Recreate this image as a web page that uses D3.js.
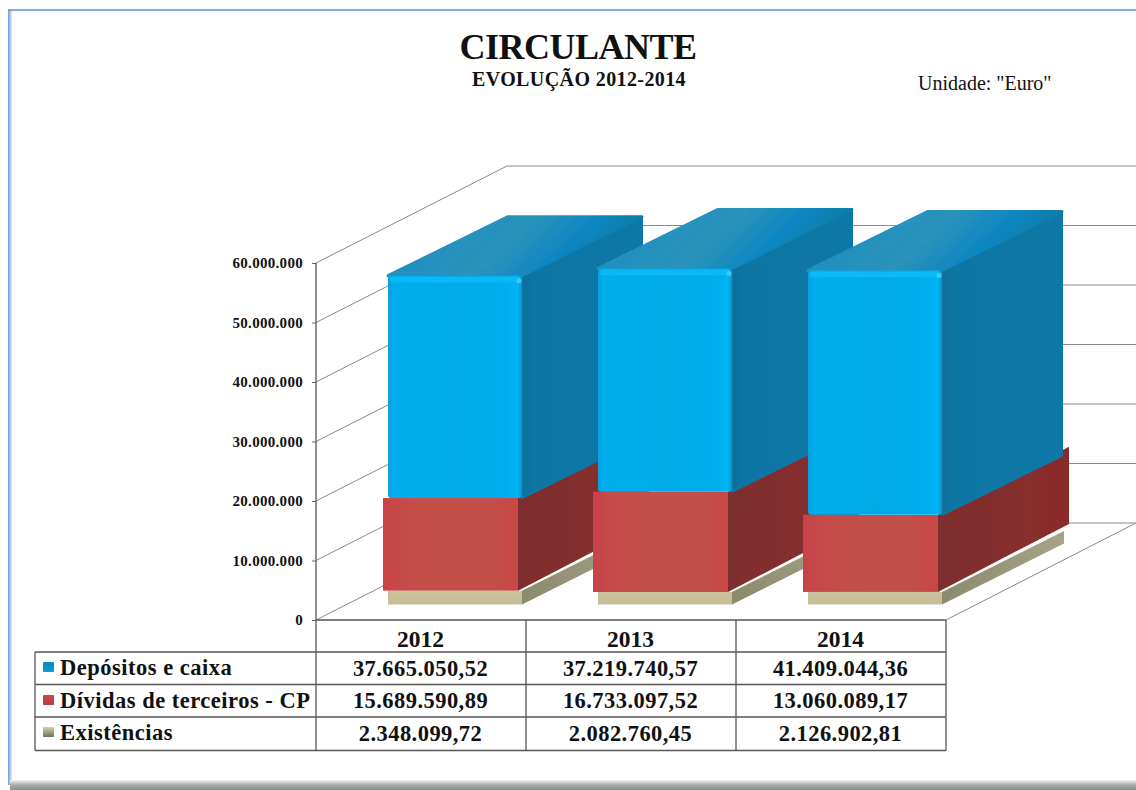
<!DOCTYPE html>
<html><head><meta charset="utf-8">
<script src="https://cdn.jsdelivr.net/npm/d3@7"></script>
<style>html,body{margin:0;padding:0;background:#fff;overflow:hidden}svg{display:block}text{font-family:"Liberation Serif",serif}</style>
</head><body><svg id="c" width="1136" height="790"></svg>
<script>
const years = [2012, 2013, 2014];
const seriesNames = ["Depósitos e caixa", "Dívidas de terceiros - CP", "Existências"];
const depositos = [37665050.52, 37219740.57, 41409044.36];
const dividas = [15689590.89, 16733097.52, 13060089.17];
const existencias = [2348099.72, 2082760.45, 2126902.81];
const yTicks = [0, 10000000, 20000000, 30000000, 40000000, 50000000, 60000000];
const titleText = "CIRCULANTE", subtitleText = "EVOLUÇÃO 2012-2014", unitText = 'Unidade: "Euro"';

const svg = d3.select("#c");
const defs = svg.append("defs");
function grad(id, stops, x2 = 1, y2 = 0) {
  const g = defs.append("linearGradient").attr("id", id).attr("x1", 0).attr("y1", 0).attr("x2", x2).attr("y2", y2);
  stops.forEach(([o, c]) => g.append("stop").attr("offset", o).attr("stop-color", c));
}
grad("blueF", [[0, "#0a9fdc"], [.04, "#03aeed"], [.5, "#03abe8"], [.9, "#03aeee"], [.97, "#03b6f6"], [1, "#0a8fc0"]]);
grad("blueS", [[0, "#0a6f9c"], [.12, "#0a76a4"], [.9, "#0977a6"], [1, "#0a78a8"]]);
grad("blueT", [[0, "#1a8dc2"], [.55, "#2a93bb"], [.78, "#0e86c2"], [.93, "#0a7eaa"], [1, "#0a7aa6"]], 1, .25);
grad("redF", [[0, "#c8424a"], [.2, "#c44e48"], [.8, "#c24f49"], [1, "#c84844"]]);
grad("redS", [[0, "#7e2e2d"], [.6, "#862f2e"], [1, "#8c2a2a"]]);
grad("exF", [[0, "#cbc39e"], [1, "#c5bc96"]], 0, 1);
grad("exS", [[0, "#8a8a6c"], [1, "#a6a38a"]]);
grad("lgB", [[0, "#0a86b8"], [1, "#0a9fd8"]], 0, 1);
grad("lgR", [[0, "#c9474c"], [1, "#b83e42"]], 0, 1);
grad("lgE", [[0, "#d8d2a0"], [1, "#6e6e62"]], 0, 1);
grad("frameL", [[0, "#6d9bd6"], [1, "#e4ecf7"]]);
grad("frameB", [[0, "#f2f3f3"], [.5, "#a9abab"], [1, "#8b8d8d"]], 0, 1);
defs.append("filter").attr("id", "soft").append("feGaussianBlur").attr("stdDeviation", .7);

// window frame
svg.append("rect").attr("x", 8).attr("y", 10).attr("width", 4).attr("height", 775).attr("fill", "url(#frameL)");
svg.append("line").attr("x1", 8).attr("x2", 1136).attr("y1", 10).attr("y2", 10).attr("stroke", "#5b8fcf").attr("stroke-width", 1.6);
svg.append("rect").attr("x", 10).attr("y", 780).attr("width", 1126).attr("height", 10).attr("fill", "url(#frameB)");

// scales
const x = d3.scaleBand().domain(years).range([316, 946]);
const y = d3.scaleLinear().domain([0, 60000000]).range([620, 263]);
const wall = { dx: 191, dy: -97 };
const loc = d3.formatLocale({ decimal: ",", thousands: ".", grouping: [3], currency: ["", ""] });
const fmtTick = loc.format(",.0f");
const fmtVal = loc.format(",.2f");

// gridlines on side wall and back wall
const grid = svg.append("g").attr("fill", "none").attr("stroke", "#8a8a8a").attr("stroke-width", 1);
yTicks.forEach(t => {
  grid.append("path").attr("d", `M${x.range()[0]},${y(t)}L${x.range()[0] + wall.dx},${y(t) + wall.dy}L1136,${y(t) + wall.dy}`);
});
grid.append("path").attr("d", `M${x.range()[1]},${y(0)}L1136,${y(0) + wall.dy}`);

// axis
const axis = svg.append("g").attr("transform", "translate(316,0)")
  .call(d3.axisLeft(y).tickValues(yTicks).tickFormat(fmtTick).tickSize(4).tickPadding(9));
axis.select(".domain").remove();
axis.selectAll("line").attr("stroke", "#666");
axis.selectAll("text").attr("font-size", 15).attr("letter-spacing", .3).attr("font-weight", "bold").attr("fill", "#111")
  .style("font-family", '"Liberation Serif",serif');

// bars
const layers = [
  { vals: existencias, off: 72, w: 134, d: [122, -61], f: "url(#exF)", s: "url(#exS)" },
  { vals: dividas, off: 67, w: 135, d: [131, -68], f: "url(#redF)", s: "url(#redS)" },
  { vals: depositos, off: 72, w: 134, d: [120, -59], f: "url(#blueF)", s: "url(#blueS)", t: "url(#blueT)", round: true }
];
const unitPx = (y(0) - y(1000000)) / 1000000;
const perspective = [0.992, 1.008, 0.992];
const baseY = 604.5;
const bars = svg.append("g").attr("filter", "url(#soft)");
years.forEach((yr, i) => {
  let cum = 0;
  const k = unitPx * perspective[i];
  layers.forEach(l => {
    const v = l.vals[i];
    const y0 = baseY - cum * k;
    const y1 = baseY - (cum + v) * k;
    cum += v;
    const x0 = x(yr) + l.off, x1 = x0 + l.w;
    const [dx, dy] = l.d;
    const g = bars.append("g");
    const face = (pts, fill) => g.append("path").attr("d", "M" + pts.map(q => q.join(",")).join("L") + "Z").attr("fill", fill);
    const side = face([[x1, y0], [x1 + dx, y0 + dy], [x1 + dx, y1 + dy], [x1, y1]], l.s);
    if (l.t) {
      side.attr("stroke", "#0a78a8").attr("stroke-width", 2).attr("stroke-linejoin", "round");
      face([[x0, y1], [x0 + dx, y1 + dy], [x1 + dx, y1 + dy], [x1, y1]], l.t)
        .attr("stroke", "url(#blueT)").attr("stroke-width", 3).attr("stroke-linejoin", "round");
    }
    g.append("rect").attr("x", x0).attr("y", y1).attr("width", l.w).attr("height", y0 - y1)
      .attr("rx", l.round ? 3 : 0).attr("fill", l.f);
    if (l.round) {
      g.append("rect").attr("x", x0 + 2).attr("y", y1 + 1).attr("width", l.w - 4).attr("height", 6)
        .attr("rx", 2).attr("fill", "#08b8f6");
      g.append("circle").attr("cx", x1 - 3).attr("cy", y1 + 5).attr("r", 2.5).attr("fill", "#3cc8f4");
    }
  });
});

// data table
const rowY = [620, 652, 684.5, 717, 750.5];
const colX = [316, ...years.slice(1).map(d => x(d)), 946];
const tbl = svg.append("g").attr("stroke", "#555").attr("stroke-width", 1.3);
tbl.append("line").attr("x1", 316).attr("x2", 946).attr("y1", rowY[0]).attr("y2", rowY[0]);
rowY.slice(1).forEach(r => tbl.append("line").attr("x1", 35).attr("x2", 946).attr("y1", r).attr("y2", r));
tbl.append("line").attr("x1", 35).attr("x2", 35).attr("y1", rowY[1]).attr("y2", rowY[4]);
colX.forEach((c, i) => tbl.append("line").attr("x1", c).attr("x2", c)
  .attr("y1", i === 0 ? 263 : rowY[0]).attr("y2", rowY[4]));

const tText = svg.append("g").attr("font-weight", "bold").attr("fill", "#111");
years.forEach((yr, i) => {
  const cx = x(yr) + x.bandwidth() / 2;
  tText.append("text").attr("x", cx - .5).attr("y", 647).attr("text-anchor", "middle").attr("font-size", 23.5).text(yr);
  [depositos, dividas, existencias].forEach((s, r) => {
    tText.append("text").attr("x", cx - .5).attr("y", [676, 708, 741][r]).attr("text-anchor", "middle")
      .attr("font-size", 22.5).attr("letter-spacing", .45).text(fmtVal(s[i]));
  });
});
const swatch = ["url(#lgB)", "url(#lgR)", "url(#lgE)"];
seriesNames.forEach((n, r) => {
  svg.append("rect").attr("x", 43).attr("y", [662, 695, 727][r]).attr("width", 11).attr("height", 10).attr("rx", 1).attr("fill", swatch[r]);
  tText.append("text").attr("x", 60).attr("y", [675, 708, 740][r]).attr("font-size", 22.5).attr("letter-spacing", .5).text(n);
});

// titles
svg.append("text").attr("x", 578).attr("y", 59).attr("text-anchor", "middle").attr("font-size", 36).attr("letter-spacing", -.5).attr("font-weight", "bold").attr("fill", "#111").text(titleText);
svg.append("text").attr("x", 579).attr("y", 86).attr("text-anchor", "middle").attr("font-size", 20).attr("letter-spacing", .4).attr("font-weight", "bold").attr("fill", "#111").text(subtitleText);
svg.append("text").attr("x", 918).attr("y", 90).attr("font-size", 20).attr("fill", "#111").text(unitText);
</script></body></html>
